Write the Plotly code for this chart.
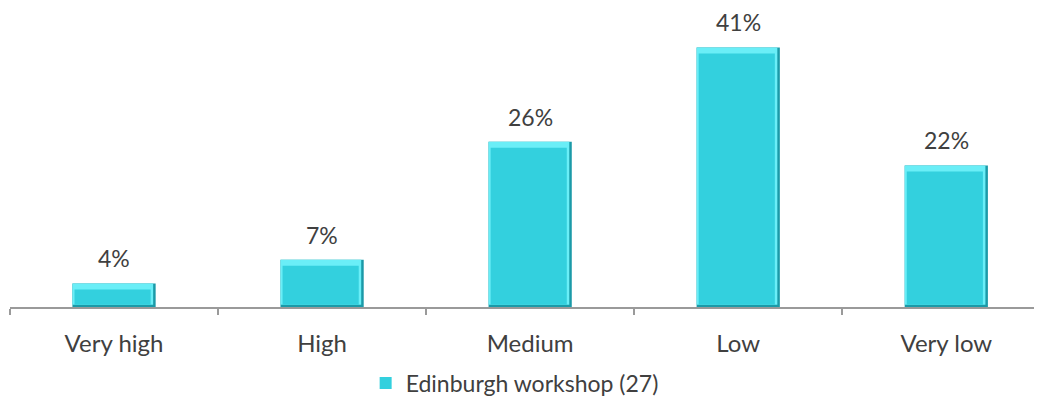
import plotly.graph_objects as go

categories = ["Very high", "High", "Medium", "Low", "Very low"]
values = [3.7, 7.4, 25.9, 40.7, 22.2]
labels = ["4%", "7%", "26%", "41%", "22%"]
series_name = "Edinburgh workshop (27)"

FONT = "Lato, 'Open Sans', sans-serif"
TEXT = "#404040"

n = len(values)
fig = go.Figure()
# dark outer edge (right / bottom bevel)
fig.add_trace(go.Bar(
    x=categories, y=values, width=0.4, offset=-0.2,
    marker=dict(color="#1B9AA8", line=dict(width=0)),
    hoverinfo="skip", showlegend=False,
))
# light bevel (top / left)
fig.add_trace(go.Bar(
    x=categories, y=[v - 0.35 for v in values], base=[0.35] * n, width=0.388, offset=-0.2,
    marker=dict(color="#6AEEF7", line=dict(width=0)),
    hoverinfo="skip", showlegend=False,
))
# main face
fig.add_trace(go.Bar(
    x=categories, y=[v - 1.3 for v in values], base=[0.35] * n, width=0.366, offset=-0.19,
    name=series_name,
    marker=dict(color="#33D0DE", line=dict(width=0)),
    hoverinfo="skip", showlegend=True,
))

for c, v, t in zip(categories, values, labels):
    fig.add_annotation(x=c, y=v, text=t, showarrow=False, yanchor="bottom",
                       yshift=9, font=dict(size=23, color=TEXT, family=FONT))

fig.update_layout(
    width=1034, height=408,
    margin=dict(l=2, r=0, t=12, b=109),
    barmode="overlay",
    plot_bgcolor="white", paper_bgcolor="white",
    font=dict(family=FONT, color=TEXT),
    showlegend=True,
    legend=dict(orientation="h", x=0.489, xanchor="center", y=-0.265, yanchor="middle",
                font=dict(size=23, color=TEXT, family=FONT), itemwidth=30),
    xaxis=dict(range=[-0.5, 4.46], showline=True, linecolor="#9A9A9A", linewidth=1.5,
               ticks="outside", tickson="boundaries", ticklen=6, tickcolor="#9A9A9A",
               tickwidth=1.5, tickfont=dict(size=24, color=TEXT, family=FONT),
               showgrid=False, ticklabelstandoff=14),
    yaxis=dict(range=[0, 45], visible=False, showgrid=False),
)

fig.write_html("out.html")
